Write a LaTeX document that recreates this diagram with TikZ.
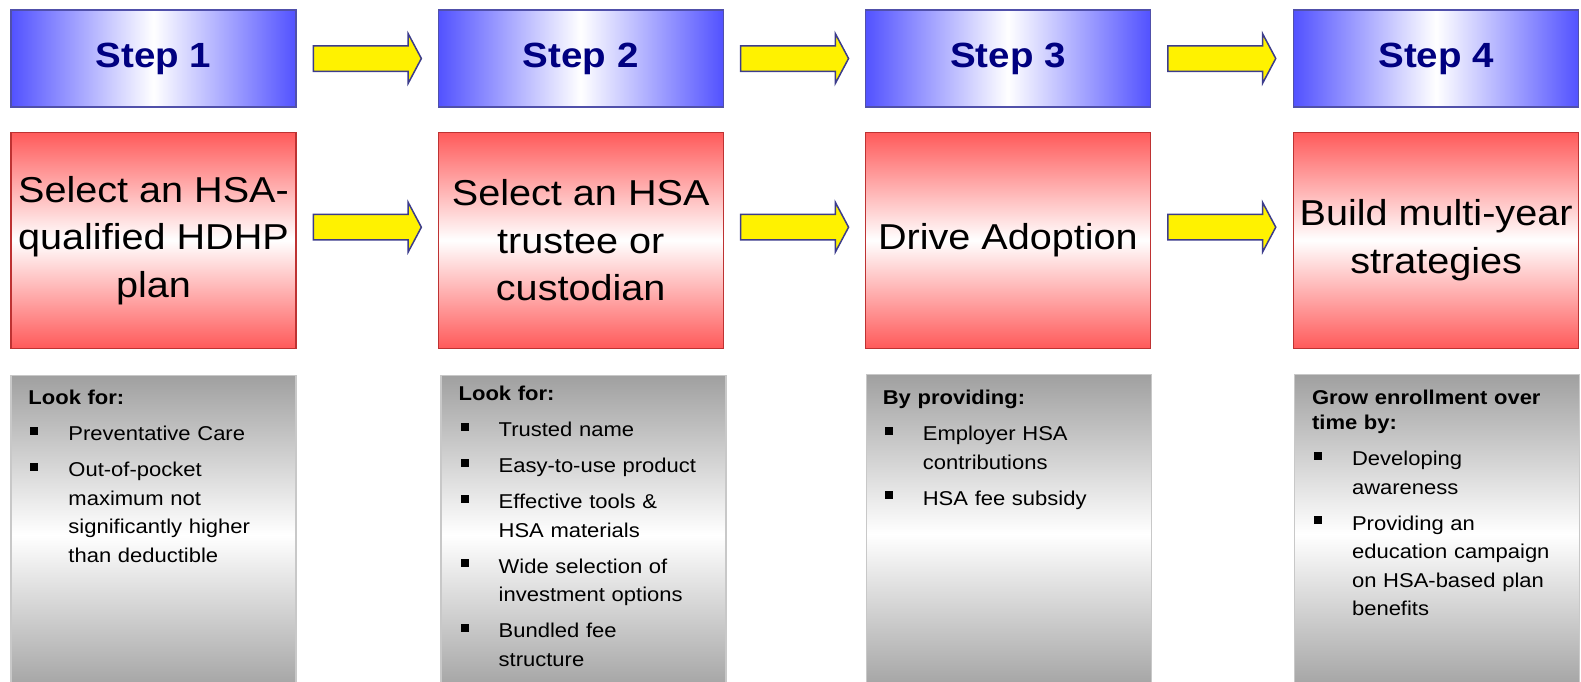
\documentclass[tikz,border=0pt]{standalone}
\usepackage{fontspec}
\setmainfont[FakeStretch=1.1]{Liberation Sans}
\usetikzlibrary{positioning, shapes.arrows}

\definecolor{hdblue}{RGB}{82,82,255}
\definecolor{hdedge}{RGB}{80,80,170}
\definecolor{stepnavy}{RGB}{0,0,128}
\definecolor{actred}{RGB}{255,90,90}
\definecolor{actedge}{RGB}{190,50,50}
\definecolor{panelgray}{RGB}{160,160,160}
\definecolor{paneledge}{RGB}{200,200,200}
\definecolor{arrowedge}{RGB}{60,60,140}

\newcommand{\hsahead}[1]{{\bfseries\fontsize{20}{25}\selectfont #1\par}}
\newcommand{\hsaitem}[1]{\par\vspace{7.5pt}\hangindent=40pt\hangafter=1\noindent
  \makebox[40pt][l]{\hspace{2pt}\rule[6pt]{8pt}{8pt}}#1\par}

\begin{document}
\begin{tikzpicture}[x=1pt, y=-1pt,
    stephead/.style={draw=hdedge, line width=1.2pt, left color=hdblue, right color=hdblue,
      middle color=white, minimum width=285pt, minimum height=97pt, inner sep=0pt,
      text=stepnavy, font=\bfseries\fontsize{35}{40}\selectfont},
    actbox/.style={draw=actedge, line width=1.2pt, top color=actred, bottom color=actred,
      middle color=white, minimum width=285pt, minimum height=216pt, inner sep=0pt,
      align=center, font=\fontsize{36}{47.5}\selectfont},
    panel/.style={draw=paneledge, line width=1.5pt, top color=panelgray, bottom color=panelgray,
      middle color=white, minimum width=285pt, minimum height=319pt, inner sep=0pt},
    paneltext/.style={anchor=base west, inner sep=0pt, text width=265pt, align=left,
      font=\fontsize{20}{28.5}\selectfont},
    flowarrow/.style={single arrow, draw=arrowedge, line width=1.5pt, fill=yellow,
      inner xsep=0pt, inner ysep=12pt, single arrow head extend=12pt,
      single arrow tip angle=124, single arrow head indent=0pt, minimum height=108pt}]
    \useasboundingbox (0,0) rectangle (1581,681);
    \clip (0,0) rectangle (1581,681);

    % step headers
    \node[stephead] (s1) at (153.5,58.5) {Step 1};
    \node[stephead, right=141pt of s1] (s2) {Step 2};
    \node[stephead, right=141pt of s2] (s3) {Step 3};
    \node[stephead, right=142pt of s3] (s4) {Step 4};

    % actions
    \node[actbox, below=24pt of s1] (r1) {Select an HSA-\\qualified HDHP\\plan};
    \node[actbox, below=24pt of s2] (r2) {Select an HSA\\trustee or\\custodian};
    \node[actbox, below=24pt of s3] (r3) {Drive Adoption};
    \node[actbox, below=24pt of s4] (r4) {Build multi-year\\strategies};

    % arrows between columns
    \node[flowarrow, right=16pt of s1] (a1) {};
    \node[flowarrow, right=16pt of s2] (a2) {};
    \node[flowarrow, right=16pt of s3] (a3) {};
    \node[flowarrow, right=16pt of r1, yshift=13pt] (b1) {};
    \node[flowarrow, right=16pt of r2, yshift=13pt] (b2) {};
    \node[flowarrow, right=16pt of r3, yshift=13pt] (b3) {};

    % detail panels
    \node[panel, below=26pt of r1] (g1) {};
    \node[panel, below=26pt of r2, xshift=3pt] (g2) {};
    \node[panel, below=25pt of r3, xshift=1pt] (g3) {};
    \node[panel, below=25pt of r4, xshift=1pt] (g4) {};

    \node[paneltext] (t1) at ([xshift=18pt, yshift=-30pt]g1.north west) {%
      \hsahead{Look for:}
      \hsaitem{Preventative Care}
      \hsaitem{Out-of-pocket\newline maximum not\newline significantly higher\newline than deductible}};
    \node[paneltext] (t2) at ([xshift=18pt, yshift=-26pt]g2.north west) {%
      \hsahead{Look for:}
      \hsaitem{Trusted name}
      \hsaitem{Easy-to-use product}
      \hsaitem{Effective tools \&\newline HSA materials}
      \hsaitem{Wide selection of\newline investment options}
      \hsaitem{Bundled fee\newline structure}};
    \node[paneltext] (t3) at ([xshift=17pt, yshift=-31pt]g3.north west) {%
      \hsahead{By providing:}
      \hsaitem{Employer HSA\newline contributions}
      \hsaitem{HSA fee subsidy}};
    \node[paneltext] (t4) at ([xshift=18pt, yshift=-31pt]g4.north west) {%
      \hsahead{Grow enrollment over\newline time by:}
      \hsaitem{Developing\newline awareness}
      \hsaitem{Providing an\newline education campaign\newline on HSA-based plan\newline benefits}};
\end{tikzpicture}
\end{document}
